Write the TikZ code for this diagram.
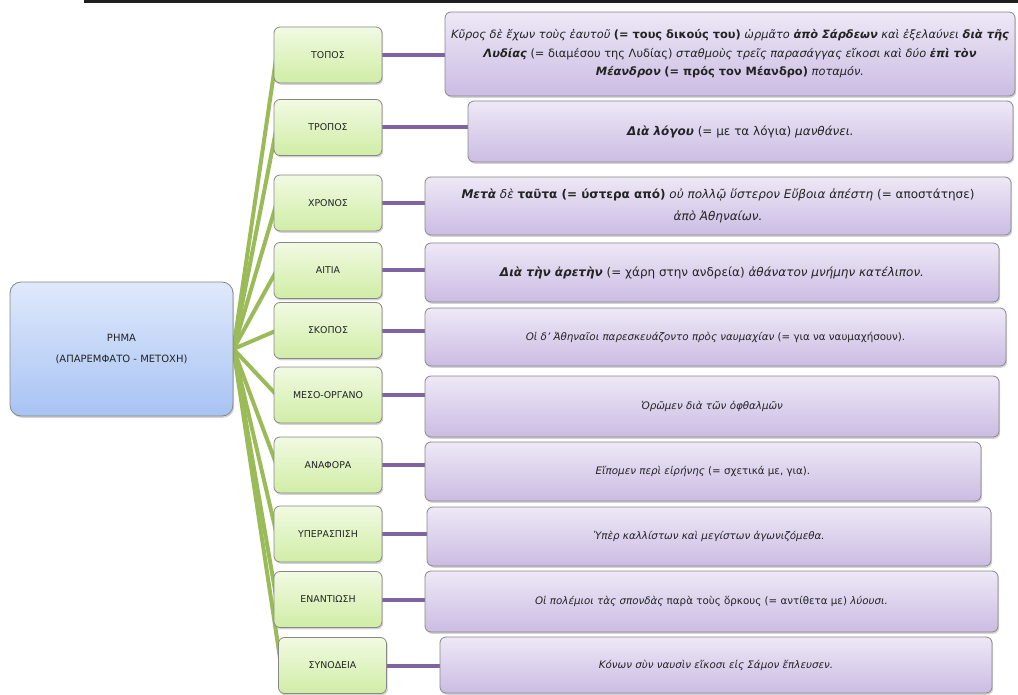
\documentclass[tikz,border=0pt]{standalone}
\usepackage{fontspec}
\setmainfont{DejaVu Sans}
\usetikzlibrary{calc,shadows,backgrounds}

\definecolor{greentop}{RGB}{241,250,226}
\definecolor{greenbot}{RGB}{208,237,166}
\definecolor{violettop}{RGB}{238,232,246}
\definecolor{violetbot}{RGB}{203,188,227}
\definecolor{bluetop}{RGB}{223,233,251}
\definecolor{bluebot}{RGB}{168,195,243}
\definecolor{boxline}{RGB}{135,135,135}
\definecolor{greenlink}{RGB}{155,187,89}
\definecolor{violetlink}{RGB}{128,100,162}
\definecolor{ink}{RGB}{35,35,35}

\tikzset{
  basebox/.style={draw=boxline, line width=0.8pt, rounded corners=6pt, text=ink,
    align=center, inner sep=2pt,
    drop shadow={shadow xshift=1.2pt, shadow yshift=-1.8pt, opacity=0.35}},
  rimabox/.style={basebox, rounded corners=11pt, top color=bluetop, bottom color=bluebot,
    minimum width=223pt, minimum height=134pt, font=\fontsize{10}{21}\selectfont},
  kindbox/.style={basebox, top color=greentop, bottom color=greenbot,
    minimum width=108pt, minimum height=56pt, font=\fontsize{9.4}{11}\selectfont},
  examplebox/.style={basebox, top color=violettop, bottom color=violetbot},
  first/.style={font=\fontsize{11.4}{18.5}\selectfont},
  big/.style={font=\fontsize{12}{22}\selectfont},
  small/.style={font=\fontsize{10.3}{12}\selectfont},
  greenline/.style={greenlink, line width=4pt},
  violetline/.style={violetlink, line width=4pt}
}

\begin{document}
\begin{tikzpicture}[x=1pt,y=-1pt]

    \useasboundingbox (0,0) rectangle (1018,695);

    % Draw the rule on top
    \coordinate (ruleA) at (84,1.5);
    \coordinate (ruleB) at (1018,1.5);
    \draw[line width=3pt, black!88] (ruleA) -- (ruleB);

    % Define the central node
    \node[rimabox] (rima) at (121.5,349) {ΡΗΜΑ\\(ΑΠΑΡΕΜΦΑΤΟ - ΜΕΤΟΧΗ)};

    % Define the kinds of meaning (green nodes)
    \foreach \name/\x/\y/\kind in {topos/328/55/ΤΟΠΟΣ, tropos/328/127.5/ΤΡΟΠΟΣ,
        chronos/328/203/ΧΡΟΝΟΣ, aitia/328/270.5/ΑΙΤΙΑ, skopos/328/330.5/ΣΚΟΠΟΣ,
        meso/328/395/ΜΕΣΟ-ΟΡΓΑΝΟ, anafora/328/465/ΑΝΑΦΟΡΑ,
        yperaspisi/328/534/ΥΠΕΡΑΣΠΙΣΗ, enantiosi/328/599.5/ΕΝΑΝΤΙΩΣΗ,
        synodeia/332.5/665.5/ΣΥΝΟΔΕΙΑ}
        \node[kindbox] (\name) at (\x,\y) {\kind};

    % Define the examples (violet nodes)
    \node[examplebox, first, minimum width=570pt, minimum height=84pt]
        (ex-topos) at (730,54)
        {\textit{Κῦρος δὲ ἔχων τοὺς ἑαυτοῦ} \textbf{(= τους δικούς του)} \textit{ὡρμᾶτο} \textbf{\textit{ἀπὸ Σάρδεων}} \textit{καὶ ἐξελαύνει} \textbf{\textit{διὰ τῆς}}\\
         \textbf{\textit{Λυδίας}} (= διαμέσου της Λυδίας) \textit{σταθμοὺς τρεῖς παρασάγγας εἴκοσι καὶ δύο} \textbf{\textit{ἐπὶ τὸν}}\\
         \textbf{\textit{Μέανδρον}} \textbf{(= πρός τον Μέανδρο)} \textit{ποταμόν.}};
    \node[examplebox, big, minimum width=545pt, minimum height=61pt] (ex-tropos) at (740.5,131.5)
        {\textbf{\textit{Διὰ λόγου}} (= με τα λόγια) \textit{μανθάνει.}};
    \node[examplebox, big, minimum width=586pt, minimum height=58pt] (ex-chronos) at (718,206)
        {\textbf{\textit{Μετὰ}} \textit{δὲ} \textbf{ταῦτα (= ύστερα από)} \textit{οὐ πολλῷ ὕστερον Εὔβοια ἀπέστη} (= αποστάτησε)\\
         \textit{ἀπὸ Ἀθηναίων.}};
    \node[examplebox, big, minimum width=574pt, minimum height=59pt] (ex-aitia) at (712,272.5)
        {\textbf{\textit{Διὰ τὴν ἀρετὴν}} (= χάρη στην ανδρεία) \textit{ἀθάνατον μνήμην κατέλιπον.}};
    \node[examplebox, small, minimum width=581pt, minimum height=58pt] (ex-skopos) at (715.5,337)
        {\textit{Οἱ δ' Ἀθηναῖοι παρεσκευάζοντο πρὸς ναυμαχίαν} (= για να ναυμαχήσουν).};
    \node[examplebox, small, minimum width=574pt, minimum height=61pt] (ex-meso) at (712,406.5)
        {\textit{Ὁρῶμεν διὰ τῶν ὀφθαλμῶν}};
    \node[examplebox, small, minimum width=556pt, minimum height=59pt] (ex-anafora) at (703,471.5)
        {\textit{Εἴπομεν περὶ εἰρήνης} (= σχετικά με, για).};
    \node[examplebox, small, minimum width=564pt, minimum height=59pt] (ex-yperaspisi) at (709,536.5)
        {\textit{Ὑπὲρ καλλίστων καὶ μεγίστων ἀγωνιζόμεθα.}};
    \node[examplebox, small, minimum width=573pt, minimum height=61pt] (ex-enantiosi) at (711.5,601.5)
        {\textit{Οἱ πολέμιοι τὰς σπονδὰς} παρὰ τοὺς ὅρκους (= αντίθετα με) \textit{λύουσι.}};
    \node[examplebox, small, minimum width=552pt, minimum height=56pt] (ex-synodeia) at (716,665)
        {\textit{Κόνων σὺν ναυσὶν εἴκοσι εἰς Σάμον ἔπλευσεν.}};

    % Draw the links behind the nodes
    \begin{pgfonlayer}{background}
        \foreach \name in {topos, tropos, chronos, aitia, skopos, meso, anafora,
            yperaspisi, enantiosi, synodeia}
        {
            \draw[greenline] (rima.east) -- ($(\name.west)+(3,0)$);
            \draw[violetline] (\name.east) -- (\name.east -| ex-\name.west);
        }
    \end{pgfonlayer}

\end{tikzpicture}
\end{document}
